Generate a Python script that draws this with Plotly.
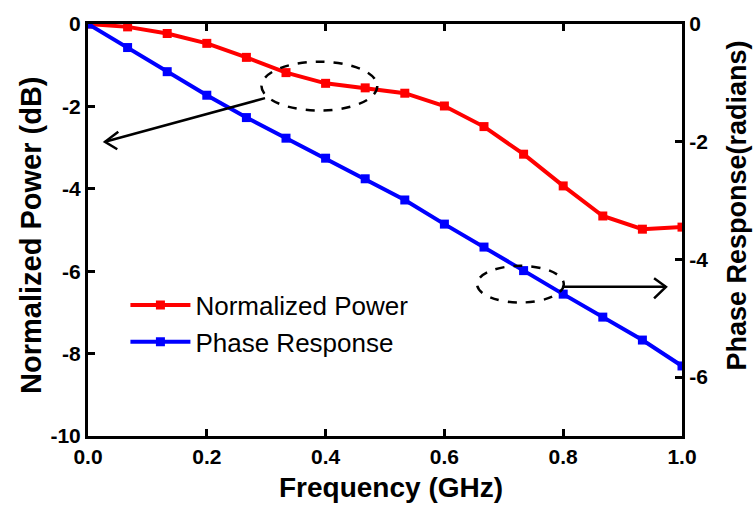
import plotly.graph_objects as go

# ---- data ----
freq_ghz = [i / 15 for i in range(16)]
norm_power_db = [0.0, -0.07, -0.23, -0.47, -0.81, -1.18, -1.44, -1.55,
                 -1.68, -1.99, -2.49, -3.16, -3.93, -4.66, -4.98, -4.93]
phase_rad = [0.0, -0.40, -0.81, -1.21, -1.59, -1.94, -2.28, -2.63,
             -2.99, -3.40, -3.79, -4.19, -4.59, -4.98, -5.37, -5.81]

x_ticks = [0.0, 0.2, 0.4, 0.6, 0.8, 1.0]
left_ticks = [0, -2, -4, -6, -8, -10]
right_ticks = [0, -2, -4, -6]

FONT = "Arial, Liberation Sans, sans-serif"

fig = go.Figure()
fig.add_trace(go.Scatter(
    x=freq_ghz, y=norm_power_db, name="Normalized Power", mode="lines+markers",
    line=dict(color="#ff0000", width=4),
    marker=dict(symbol="square", size=9, color="#ff0000"),
    yaxis="y"))
fig.add_trace(go.Scatter(
    x=freq_ghz, y=phase_rad, name="Phase Response", mode="lines+markers",
    line=dict(color="#0000ff", width=4),
    marker=dict(symbol="square", size=9, color="#0000ff"),
    yaxis="y2"))

# decorations (dashed ellipses + arrows), in left-axis data coordinates
ellipses = [(0.292, -0.915, 0.487, -2.10), (0.655, -5.87, 0.801, -6.76)]
arrow_lines = [(0.298, -1.80, 0.0286, -2.86), (0.801, -6.38, 0.973, -6.38)]
arrow_heads = [[(0.051, -2.614), (0.0286, -2.86), (0.0493, -3.04)],
               [(0.953, -6.17), (0.973, -6.38), (0.953, -6.66)]]

shapes = []
for x0, y0, x1, y1 in ellipses:
    shapes.append(dict(type="circle", xref="x", yref="y", x0=x0, y0=y0, x1=x1, y1=y1,
                       line=dict(color="black", width=2.5, dash="dash")))
for x0, y0, x1, y1 in arrow_lines:
    shapes.append(dict(type="line", xref="x", yref="y", x0=x0, y0=y0, x1=x1, y1=y1,
                       line=dict(color="black", width=2.5)))
for pts in arrow_heads:
    path = "M " + " L ".join(f"{px},{py}" for px, py in pts)
    shapes.append(dict(type="path", xref="x", yref="y", path=path,
                       line=dict(color="black", width=2.5)))

annotations = [
    dict(text="<b>Frequency (GHz)</b>", xref="paper", yref="paper", x=0.51, y=-0.124,
         xanchor="center", yanchor="middle", showarrow=False,
         font=dict(family=FONT, size=28, color="black")),
    dict(text="<b>Normalized Power (dB)</b>", xref="paper", yref="paper", x=-0.096, y=0.488,
         xanchor="center", yanchor="middle", showarrow=False, textangle=-90,
         font=dict(family=FONT, size=29, color="black")),
    dict(text="<b>Phase Response(radians)</b>", xref="paper", yref="paper", x=1.093, y=0.56,
         xanchor="center", yanchor="middle", showarrow=False, textangle=-90,
         font=dict(family=FONT, size=27, color="black")),
]

axis_common = dict(showline=True, linecolor="black", linewidth=3, ticks="inside",
                   ticklen=7, tickwidth=2.5, tickcolor="black", showgrid=False,
                   zeroline=False,
                   tickfont=dict(family=FONT, size=21, color="black", weight="bold"))

fig.update_layout(
    width=754, height=507,
    margin=dict(l=88, r=72, t=24, b=71),
    paper_bgcolor="white", plot_bgcolor="white",
    xaxis=dict(range=[0, 1], tickvals=x_ticks, ticktext=[f"{v:.1f}" for v in x_ticks],
               mirror="ticks", **axis_common),
    yaxis=dict(range=[-10, 0], tickvals=left_ticks, ticktext=[str(v) for v in left_ticks],
               **axis_common),
    yaxis2=dict(range=[-7, 0], tickvals=right_ticks, ticktext=[str(v) for v in right_ticks],
                overlaying="y", side="right", **axis_common),
    legend=dict(x=0.063, y=0.375, xanchor="left", yanchor="top",
                bgcolor="rgba(0,0,0,0)", borderwidth=0,
                font=dict(family=FONT, size=26, color="black"),
                tracegroupgap=0, itemwidth=60),
    shapes=shapes,
    annotations=annotations,
)

fig.write_html("out.html")
